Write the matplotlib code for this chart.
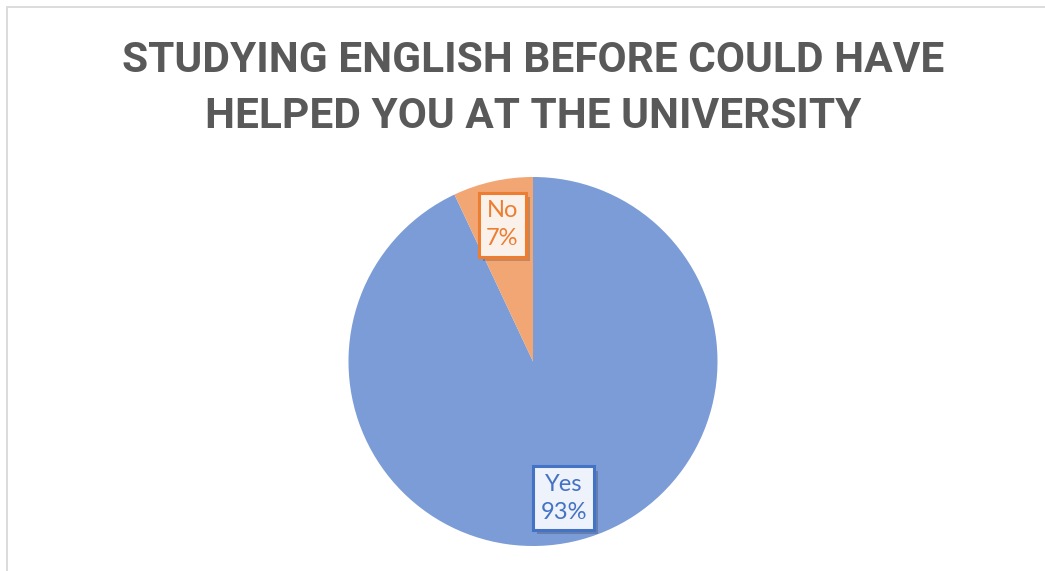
import matplotlib
matplotlib.use("Agg")
import matplotlib.pyplot as plt
import matplotlib.patheffects as pe
from matplotlib.patches import Rectangle

# Survey answers
categories = ["Yes", "No"]
shares = [93, 7]
title_lines = ["STUDYING ENGLISH BEFORE COULD HAVE", "HELPED YOU AT THE UNIVERSITY"]

slice_colors = ["#7B9CD6", "#F1A673"]
label_edge = ["#4472C4", "#ED7D31"]
label_face = ["#EEF2FA", "#FBF1EB"]

W, H = 1045, 571
fig = plt.figure(figsize=(W / 100, H / 100), dpi=100)
fig.patch.set_facecolor("white")

# light chart-area frame
fig.patches.append(Rectangle((6.5 / W, -0.05), 1.2, (H - 6.5) / H + 0.05,
                             transform=fig.transFigure, fill=False,
                             edgecolor="#D9D9D9", linewidth=1.3))

title_font = ["Roboto"]
target_w = 823
renderer = fig.canvas.get_renderer()
title_texts = []
for line, yc in zip(title_lines, [61, 117]):
    t = fig.text(533 / W, 1 - yc / H, line, ha="center", va="center",
                 fontsize=33, fontweight="bold", color="#595959",
                 family=title_font)
    title_texts.append(t)
# size the title so the first line spans the target width
w0 = title_texts[0].get_window_extent(renderer).width
scale = target_w / w0
for t in title_texts:
    t.set_fontsize(33 * scale)

cx, cy, r = 533, 361.5, 184.5
ax = fig.add_axes([(cx - r) / W, (H - cy - r) / H, 2 * r / W, 2 * r / H])
wedges, texts, autotexts = ax.pie(
    shares, colors=slice_colors, startangle=90, counterclock=False,
    radius=1, autopct="%d%%", pctdistance=0.76,
    wedgeprops=dict(linewidth=0))
ax.set_xlim(-1, 1)
ax.set_ylim(-1, 1)
ax.set_aspect("equal")
ax.axis("off")

for i, (txt, at) in enumerate(zip(texts, autotexts)):
    txt.set_visible(False)
    at.set_text(f"{categories[i]}\n{shares[i]}%")
    at.set_ha("center")
    at.set_va("center")
    at.set_fontsize(17)
    at.set_family(["Lato"])
    at.set_color(label_edge[i])
    at.set_linespacing(1.45)
    at.set_bbox(dict(boxstyle="square,pad=0.3", facecolor=label_face[i],
                     edgecolor=label_edge[i], linewidth=2.2))
    at.get_bbox_patch().set_path_effects([
        pe.SimplePatchShadow(offset=(3, -3), shadow_rgbFace="#000000", alpha=0.18),
        pe.Normal()])

fig.savefig("out.png", dpi=100, facecolor="white")
